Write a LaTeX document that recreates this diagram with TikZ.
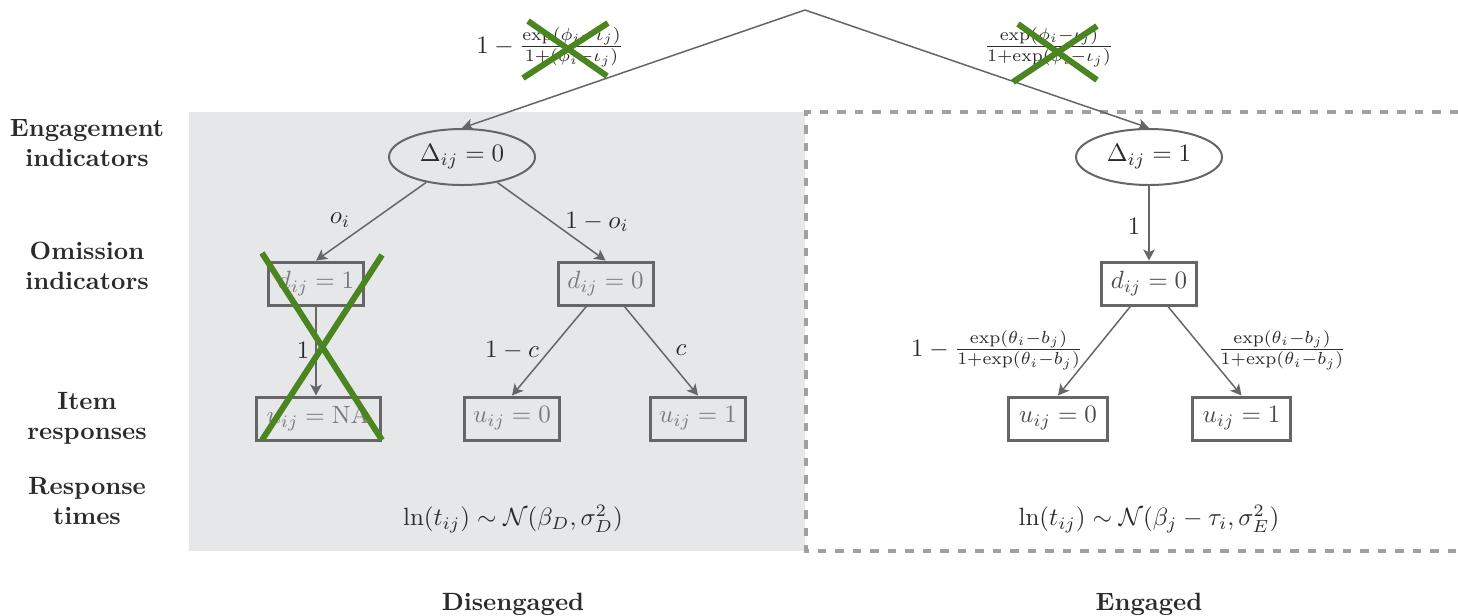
\documentclass[tikz,border=0pt]{standalone}
\usepackage{amsmath}
\usetikzlibrary{shapes.geometric,arrows.meta}
\definecolor{edgegray}{HTML}{666666}
\definecolor{panelgray}{HTML}{E6E7E9}
\definecolor{dashgray}{HTML}{A0A0A0}
\definecolor{crossgreen}{HTML}{4A8520}
\definecolor{dimtext}{HTML}{7A7A7A}
\definecolor{boxtext}{HTML}{4A4A4A}
\definecolor{labtext}{HTML}{2B2B2B}
\begin{document}
\begin{tikzpicture}[x=0.4pt,y=-0.4pt,
  state/.style={ellipse,draw=edgegray,line width=0.8pt,minimum width=58.4pt,
    minimum height=22.4pt,inner sep=0pt,text=labtext},
  valbox/.style={rectangle,draw=edgegray,line width=1.2pt,minimum height=17.2pt,
    minimum width=38pt,inner sep=0pt,text=boxtext},
  dim/.style={text=dimtext},
  branch/.style={draw=edgegray,line width=0.6pt,-{Stealth[length=4.4pt,width=4.6pt,inset=1.1pt]}},
  elab/.style={text=labtext,inner sep=1pt},
  rowlab/.style={font=\bfseries,align=center,text=labtext},
  cross/.style={draw=crossgreen,line width=2.4pt}
]
\useasboundingbox (0,0) rectangle (1458,615);

% panels
\fill[panelgray] (189,112) rectangle (805,551);
\draw[dashgray,line width=1.3pt,dash pattern=on 3.4pt off 3.6pt]
  (1458,112) -- (806,112) -- (806,551) -- (1458,551);

% row labels
\node[rowlab] (rEng) at (87,143) {Engagement\\indicators};
\node[rowlab] (rOm)  at (87,266) {Omission\\indicators};
\node[rowlab] (rIt)  at (87,418) {Item\\responses};
\node[rowlab] (rRt)  at (87,501) {Response\\times};

% tree
\coordinate (root) at (805,10);
\node[state] (dz) at (462,157) {$\Delta_{ij}=0$};
\node[state] (do) at (1149,157) {$\Delta_{ij}=1$};

\node[valbox,dim] (dA) at (316,283.5) {$d_{ij}=1$};
\node[valbox,dim] (dB) at (605.5,283.5) {$d_{ij}=0$};
\node[valbox,dim,minimum width=49.6pt] (uNA) at (318,418.5) {$u_{ij}=\mathrm{NA}$};
\node[valbox,dim] (uB0) at (512,418.5) {$u_{ij}=0$};
\node[valbox,dim] (uB1) at (698,418.5) {$u_{ij}=1$};

\node[valbox] (dC) at (1149,283.5) {$d_{ij}=0$};
\node[valbox,minimum width=39.5pt] (uC0) at (1058,418.5) {$u_{ij}=0$};
\node[valbox,minimum width=39pt] (uC1) at (1241.5,418.5) {$u_{ij}=1$};

\draw[branch] (root) -- (dz.north);
\draw[branch] (root) -- (do.north);
\draw[branch] (dz) -- (dA.north);
\draw[branch] (dz) -- (dB.north);
\draw[branch] (dA) -- (dA |- uNA.north);
\draw[branch] (dB) -- (uB0.north);
\draw[branch] (dB) -- (uB1.north);
\draw[branch] (do) -- (dC.north);
\draw[branch] (dC) -- (uC0.north);
\draw[branch] (dC) -- (uC1.north);

% branch probabilities
\node[elab] (pTop0) at (550,47) {$1-\tfrac{\exp(\phi_i-\iota_j)}{1+(\phi_i-\iota_j)}$};
\node[elab] (pTop1) at (1049,47) {$\tfrac{\exp(\phi_i-\iota_j)}{1+\exp(\phi_i-\iota_j)}$};
\node[elab] (pOi) at (340,220) {$o_i$};
\node[elab] (pOo) at (597,222) {$1-o_i$};
\node[elab] (pOne) at (303,350) {$1$};
\node[elab] (pC0) at (512,350) {$1-c$};
\node[elab] (pC1) at (681,350) {$c$};
\node[elab] (pEng) at (1134,226) {$1$};
\node[elab] (pI0) at (997,350) {$1-\tfrac{\exp(\theta_i-b_j)}{1+\exp(\theta_i-b_j)}$};
\node[elab] (pI1) at (1282,350) {$\tfrac{\exp(\theta_i-b_j)}{1+\exp(\theta_i-b_j)}$};

% response time distributions
\node[elab] (tD) at (513,519) {$\ln(t_{ij})\sim\mathcal{N}(\beta_D,\sigma_D^2)$};
\node[elab] (tE) at (1149,519) {$\ln(t_{ij})\sim\mathcal{N}(\beta_j-\tau_i,\sigma_E^2)$};

% class names
\node[rowlab] (cD) at (513,604) {Disengaged};
\node[rowlab] (cE) at (1149,604) {Engaged};

% struck-out parts
\draw[cross] (528,21) -- (607,76);
\draw[cross] (608,23) -- (523,78);
\draw[cross] (1018,24) -- (1097,80);
\draw[cross] (1097,26) -- (1013,82);
\draw[cross] (262,253) -- (382,440);
\draw[cross] (382,255) -- (262,440);
\end{tikzpicture}
\end{document}
